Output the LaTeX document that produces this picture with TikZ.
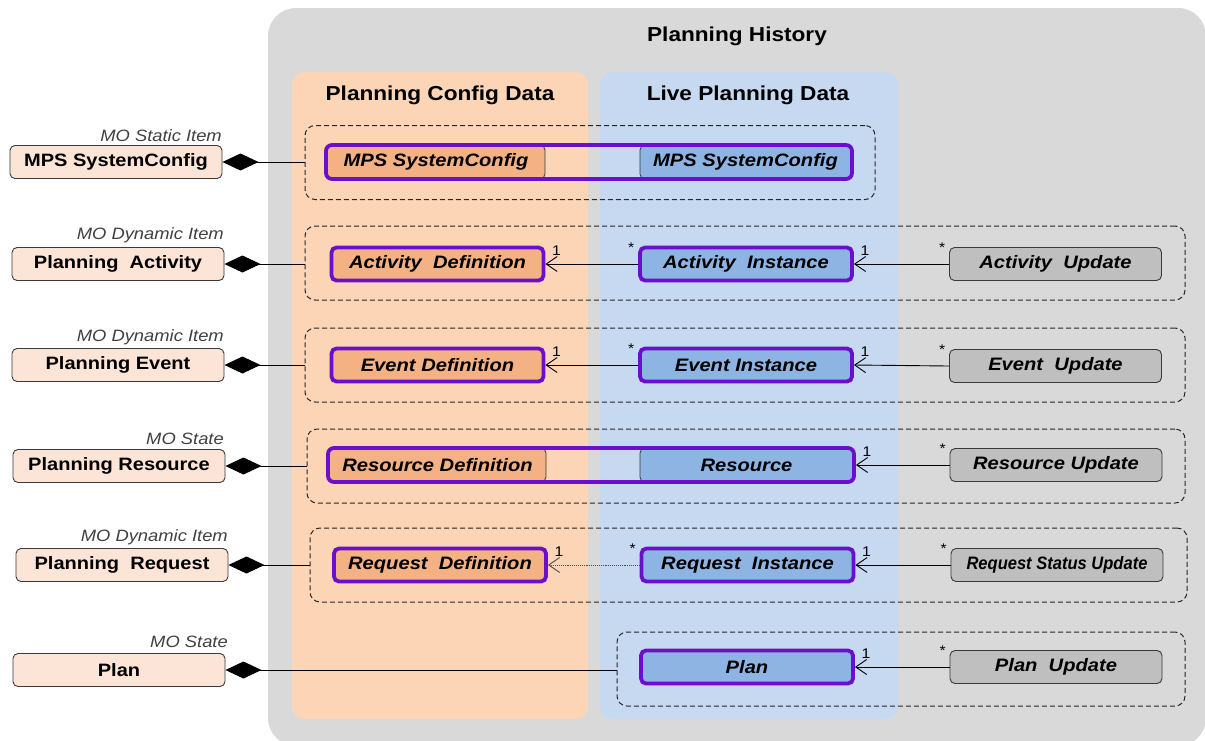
\documentclass[tikz,border=0pt]{standalone}
\usepackage{fontspec}
\setmainfont{Liberation Sans}[FakeStretch=1.12]
\usetikzlibrary{arrows.meta}
\definecolor{histgray}{HTML}{D9D9D9}
\definecolor{cfgcol}{HTML}{FBD5B5}
\definecolor{livecol}{HTML}{C6D9F1}
\definecolor{orangebox}{HTML}{F4B183}
\definecolor{bluebox}{HTML}{8EB4E3}
\definecolor{graybox}{HTML}{BFBFBF}
\definecolor{lightpeach}{HTML}{FCE4D6}
\definecolor{purp}{HTML}{6A10CC}
\definecolor{edgecol}{HTML}{3A3A3A}
\begin{document}
\begin{tikzpicture}[x=1pt,y=-1pt,
  lnode/.style={draw=edgecol, line width=0.9pt, fill=lightpeach, rounded corners=5pt,
    minimum width=212pt, minimum height=33pt, inner sep=0pt,
    font=\fontsize{17.9}{20}\selectfont\bfseries},
  molabel/.style={anchor=south east, inner sep=0pt, text=black!75,
    font=\fontsize{16.4}{18}\selectfont\itshape},
  heading/.style={inner sep=0pt, font=\fontsize{20.2}{22}\selectfont\bfseries},
  group/.style={draw=black!85, dash pattern=on 5pt off 3pt, line width=1pt,
    rounded corners=10pt, inner sep=0pt, minimum height=74pt},
  ibox/.style={minimum width=212pt, minimum height=33pt, inner sep=0pt,
    rounded corners=5pt, font=\fontsize{18}{20}\selectfont\bfseries\itshape},
  defbox/.style={ibox, fill=orangebox, draw=purp, line width=3.8pt},
  instbox/.style={ibox, fill=bluebox, draw=purp, line width=3.8pt},
  updbox/.style={ibox, fill=graybox, draw=edgecol, line width=0.9pt},
  halfdef/.style={ibox, fill=orangebox, draw=edgecol, line width=0.8pt, minimum height=34pt},
  halfinst/.style={ibox, fill=bluebox, draw=edgecol, line width=0.8pt, minimum height=34pt},
  outline/.style={draw=purp, line width=3.8pt, rounded corners=6pt, inner sep=0pt, minimum height=34pt},
  compo/.style={{Diamond[length=36pt,width=17pt]}-, line width=0.9pt, black},
  assoc/.style={-{Straight Barb[length=11pt,width=15pt,line width=0.9pt]}, line width=0.9pt, black},
  mult/.style={inner sep=0pt, font=\fontsize{14}{15}\selectfont}
]
\useasboundingbox (0,0) rectangle (1205,740);
% background areas
\fill[histgray, rounded corners=28pt] (268,8) rectangle (1206,746);
\fill[cfgcol, rounded corners=12pt] (292,72) rectangle (588,719);
\fill[livecol, rounded corners=12pt] (600,72) rectangle (898,719);
\node[heading] (title) at (737,36) {Planning History};
\node[heading] (cfgt) at (440,95) {Planning Config Data};
\node[heading] (livet) at (748,95) {Live Planning Data};

% left nodes
\node[lnode] (mpsL) at (116,162) {MPS SystemConfig};
\node[lnode] (actL) at (118,264) {Planning\ \ Activity};
\node[lnode] (evtL) at (118,365) {Planning Event};
\node[lnode] (resL) at (119,466) {Planning Resource};
\node[lnode] (reqL) at (122,565) {Planning\ \ Request};
\node[lnode] (planL) at (119,670) {Plan};
\node[molabel] (mo1) at (222,142) {MO Static Item};
\node[molabel] (mo2) at (224,243) {MO Dynamic Item};
\node[molabel] (mo3) at (224,345) {MO Dynamic Item};
\node[molabel] (mo4) at (224,445) {MO State};
\node[molabel] (mo5) at (228,545) {MO Dynamic Item};
\node[molabel] (mo6) at (228,648) {MO State};

% groups
\node[group, minimum width=570pt] (g1) at (590,162.5) {};
\node[group, minimum width=880pt] (g2) at (745,263) {};
\node[group, minimum width=880pt] (g3) at (745,365) {};
\node[group, minimum width=878pt] (g4) at (746,466) {};
\node[group, minimum width=877pt] (g5) at (748.5,565) {};
\node[group, minimum width=568pt] (g6) at (901,669) {};

% row 1
\node[halfdef, minimum width=218pt] (mpsD) at (436,162) {MPS SystemConfig};
\node[halfinst, minimum width=211pt] (mpsI) at (745.5,162) {MPS SystemConfig};
\node[outline, minimum width=526pt] (mpsO) at (589,162) {};
% row 2
\node[defbox] (actD) at (437.5,264) {Activity\ \ Definition};
\node[instbox] (actI) at (746,264) {Activity\ \ Instance};
\node[updbox] (actU) at (1055.5,264) {Activity\ \ Update};
% row 3
\node[defbox] (evtD) at (437.5,365) {Event Definition};
\node[instbox] (evtI) at (746,365) {Event Instance};
\node[updbox] (evtU) at (1055.5,366) {Event\ \ Update};
% row 4
\node[halfdef, minimum width=217pt] (resD) at (437.5,465) {Resource Definition};
\node[halfinst, minimum width=213pt] (res) at (746.5,465) {Resource};
\node[outline, minimum width=526pt] (resO) at (591,465) {};
\node[updbox] (resU) at (1056,465) {Resource Update};
% row 5
\node[defbox] (reqD) at (440,565) {Request\ \ Definition};
\node[instbox] (reqI) at (747.5,565) {Request\ \ Instance};
\node[updbox] (reqU) at (1057,565) {\scalebox{0.82}[1]{Request Status Update}};
% row 6
\node[instbox] (plan) at (747,667) {Plan};
\node[updbox] (planU) at (1056,667) {Plan\ \ Update};

% composition connectors
\draw[compo] (mpsL.east) -- (mpsL.east -| g1.west);
\draw[compo] (actL.east) -- (actL.east -| g2.west);
\draw[compo] (evtL.east) -- (evtL.east -| g3.west);
\draw[compo] (resL.east) -- (resL.east -| g4.west);
\draw[compo] (reqL.east) -- (reqL.east -| g5.west);
\draw[compo] (planL.east) -- (planL.east -| g6.west);

% associations
\draw[assoc] (actI.west) -- (actD.east);
\draw[assoc] (actU.west) -- (actI.east);
\draw[assoc] (evtI.west) -- (evtD.east);
\draw[assoc] (evtU.west) -- (evtI.east);
\draw[assoc] (resU.west) -- (resO.east);
\draw[assoc, densely dotted, draw=black!70] (reqI.west) -- (reqD.east);
\draw[assoc] (reqU.west) -- (reqI.east);
\draw[assoc] (planU.west) -- (plan.east);

% multiplicities
\foreach \n in {actD,actI,evtD,evtI,resO,reqD,reqI,plan}{
  \node[mult] (m1\n) at ([shift={(11,-13)}]\n.east) {1};
}
\foreach \n in {actI,actU,evtI,evtU,resU,reqI,reqU,planU}{
  \node[mult] (ms\n) at ([shift={(-7,-16)}]\n.west) {*};
}
\end{tikzpicture}
\end{document}
